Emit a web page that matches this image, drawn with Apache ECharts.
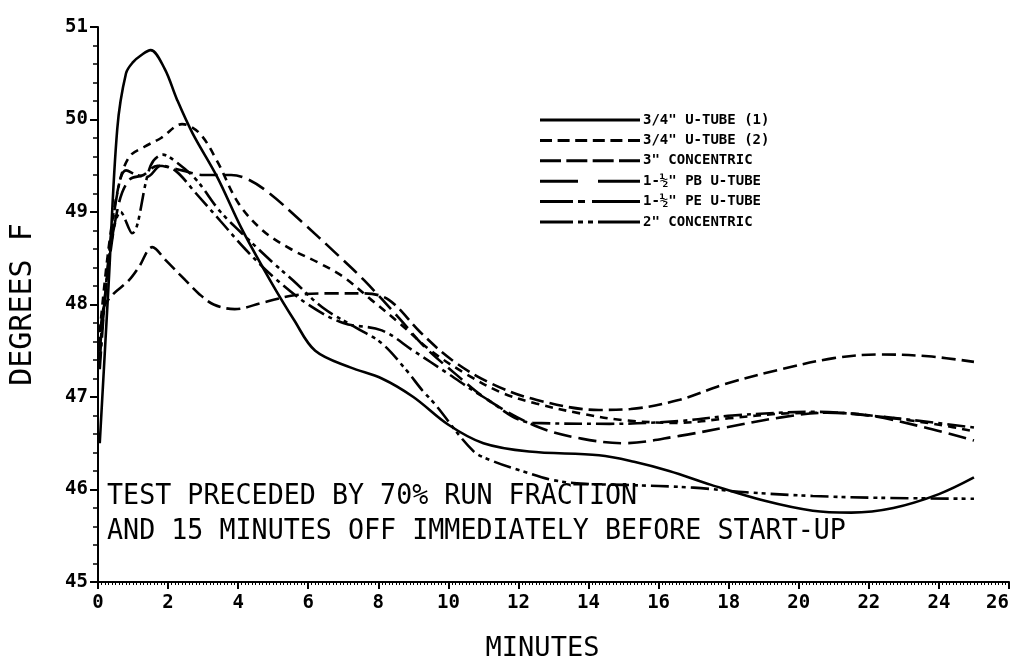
<!DOCTYPE html>
<html>
<head>
<meta charset="utf-8">
<script src="https://cdn.jsdelivr.net/npm/echarts@6/dist/echarts.min.js"></script>
<style>
  html, body { margin: 0; padding: 0; background: #fff; }
  #chart { width: 1016px; height: 668px; }
</style>
</head>
<body>
<div id="chart"></div>
<script>
// ---- Data (minutes, degrees F) ----
const seriesNames = ['3/4" U-TUBE (1)', '3/4" U-TUBE (2)', '3" CONCENTRIC', '1-½" PB U-TUBE', '1-½" PE U-TUBE', '2" CONCENTRIC'];

const uTube1 = [[0.05,46.5],[0.3,48.2],[0.55,49.9],[0.8,50.5],[1.0,50.62],[1.25,50.7],[1.5,50.75],[1.9,50.55],[2.25,50.22],[2.7,49.85],[3.4,49.38],[4.1,48.82],[4.9,48.27],[5.6,47.83],[6.2,47.5],[7.2,47.32],[8.1,47.2],[9.0,47.0],[10.0,46.7],[11.0,46.5],[12.3,46.41],[14.3,46.37],[15.3,46.3],[16.3,46.2],[17.5,46.05],[19.0,45.88],[20.4,45.77],[21.5,45.75],[22.7,45.8],[24.0,45.95],[25.0,46.13]];

const uTube2 = [[0.05,47.7],[0.3,48.6],[0.6,49.3],[0.9,49.6],[1.3,49.7],[1.8,49.8],[2.4,49.95],[2.9,49.85],[3.4,49.55],[4.0,49.1],[4.7,48.8],[5.5,48.6],[6.3,48.45],[7.0,48.3],[7.8,48.05],[8.6,47.8],[9.5,47.5],[10.5,47.25],[11.5,47.05],[12.5,46.93],[13.8,46.82],[15.0,46.75],[16.5,46.72],[18.0,46.77],[19.5,46.82],[21.0,46.83],[22.5,46.78],[24.0,46.7],[25.0,46.63]];

const concentric3 = [[0.05,47.5],[0.15,47.95],[0.4,48.1],[0.88,48.26],[1.16,48.4],[1.55,48.62],[1.93,48.48],[2.5,48.26],[2.87,48.12],[3.3,48.0],[3.9,47.95],[4.7,48.02],[5.6,48.1],[6.6,48.12],[7.6,48.12],[8.3,48.05],[9.2,47.7],[10.1,47.4],[11.2,47.15],[12.5,46.97],[14.3,46.86],[15.2,46.87],[16.6,46.97],[17.9,47.14],[19.5,47.3],[21.0,47.42],[22.3,47.46],[23.7,47.44],[25.0,47.38]];

const pbUTube = [[0.05,47.5],[0.3,48.4],[0.6,49.1],[0.9,49.35],[1.3,49.4],[1.7,49.5],[2.4,49.45],[3.0,49.4],[3.8,49.4],[4.3,49.35],[4.9,49.2],[5.8,48.9],[6.8,48.55],[7.6,48.26],[8.6,47.85],[9.3,47.55],[10.2,47.25],[11.2,46.95],[12.6,46.67],[13.8,46.55],[15.0,46.5],[16.6,46.58],[17.9,46.67],[19.5,46.78],[20.8,46.83],[22.0,46.8],[23.5,46.68],[25.0,46.53]];

const peUTube = [[0.05,47.3],[0.3,48.5],[0.6,49.3],[0.8,49.45],[1.1,49.4],[1.4,49.38],[1.8,49.5],[2.2,49.45],[2.8,49.2],[3.5,48.9],[4.2,48.6],[5.0,48.3],[6.0,48.0],[7.0,47.8],[8.1,47.72],[9.0,47.5],[10.0,47.25],[11.0,47.0],[12.4,46.72],[14.6,46.71],[16.6,46.74],[18.1,46.8],[20.5,46.84],[22.0,46.8],[23.5,46.74],[25.0,46.67]];

const concentric2 = [[0.05,47.4],[0.35,48.6],[0.65,49.0],[0.97,48.77],[1.5,49.5],[1.85,49.62],[2.2,49.55],[2.8,49.35],[3.5,49.0],[4.3,48.7],[5.0,48.45],[5.57,48.26],[6.4,47.97],[7.36,47.75],[8.1,47.58],[8.8,47.29],[9.26,47.07],[9.6,46.93],[10.7,46.42],[11.25,46.31],[12.1,46.2],[13.0,46.1],[14.0,46.06],[15.0,46.05],[17.0,46.02],[18.5,45.97],[20.4,45.93],[22.3,45.91],[25.0,45.9]];

const xTicks = { min: 0, max: 26, interval: 2 };
const yTicks = { min: 45, max: 51, interval: 1 };

// ---- Styles ----
const FONT = 'DejaVu Sans Mono';
const dashes = [null, [8, 6], [14, 6], [18, 7], [18, 5, 4, 5], [18, 5, 4, 4, 4, 5]];
const legendIcons = [
  'path://M0,0h100v3h-100z',
  'path://M0,0h12v3h-12zM17.6,0h12v3h-12zM35.2,0h12v3h-12zM52.8,0h12v3h-12zM70.4,0h12v3h-12zM88,0h12v3h-12z',
  'path://M0,0h21v3h-21zM26.33,0h21v3h-21zM52.67,0h21v3h-21zM79,0h21v3h-21z',
  'path://M0,0h38v3h-38zM58,0h42v3h-42z',
  'path://M0,0h33v3h-33zM38,0h7v3h-7zM52,0h48v3h-48z',
  'path://M0,0h33v3h-33zM38,0h5v3h-5zM48,0h5v3h-5zM58,0h42v3h-42z'
];
const allData = [uTube1, uTube2, concentric3, pbUTube, peUTube, concentric2];

const chart = echarts.init(document.getElementById('chart'));
chart.setOption({
  animation: false,
  backgroundColor: '#fff',
  grid: { left: 94, right: 7, top: 27, bottom: 86 },
  legend: {
    orient: 'vertical',
    left: 535,
    top: 107,
    itemWidth: 100,
    itemHeight: 3,
    itemGap: 4.4,
    selectedMode: false,
    itemStyle: { color: '#000', borderWidth: 0 },
    lineStyle: { width: 0 },
    textStyle: { fontFamily: FONT, fontSize: 14, fontWeight: 'bold', color: '#000', lineHeight: 16, padding: [0, 0, 0, -2] },
    data: seriesNames.map((n, i) => ({ name: n, icon: legendIcons[i] }))
  },
  xAxis: {
    type: 'value',
    min: xTicks.min, max: xTicks.max, interval: xTicks.interval,
    name: 'MINUTES',
    nameLocation: 'middle',
    nameGap: 53,
    nameTextStyle: { fontFamily: FONT, fontSize: 27, color: '#000', padding: [0, 22, 0, 0] },
    axisLine: { lineStyle: { color: '#000', width: 2 } },
    axisTick: { length: 7, lineStyle: { color: '#000', width: 2 } },
    minorTick: { show: true, splitNumber: 20, length: 3, lineStyle: { color: '#000', width: 1 } },
    splitLine: { show: false },
    axisLabel: { fontFamily: FONT, fontSize: 19, fontWeight: 'bold', color: '#000', margin: 12, alignMaxLabel: 'right' }
  },
  yAxis: {
    type: 'value',
    min: yTicks.min, max: yTicks.max, interval: yTicks.interval,
    name: 'DEGREES F',
    nameLocation: 'middle',
    nameGap: 60,
    nameTextStyle: { fontFamily: FONT, fontSize: 30, color: '#000' },
    axisLine: { show: true, lineStyle: { color: '#000', width: 2 } },
    axisTick: { show: true, length: 8, lineStyle: { color: '#000', width: 2 } },
    minorTick: { show: true, splitNumber: 5, length: 5, lineStyle: { color: '#000', width: 1.5 } },
    splitLine: { show: false },
    axisLabel: { fontFamily: FONT, fontSize: 19, fontWeight: 'bold', color: '#000', margin: 10 }
  },
  graphic: [
    { type: 'text', left: 107, top: 482, scaleX: 0.92, style: { text: 'TEST PRECEDED BY 70% RUN FRACTION', font: '29px "DejaVu Sans Mono"', fill: '#000' } },
    { type: 'text', left: 107, top: 517, scaleX: 0.92, style: { text: "AND 15 MINUTES OFF IMMEDIATELY BEFORE START-UP", font: '29px "DejaVu Sans Mono"', fill: '#000' } }
  ],
  series: allData.map((d, i) => ({
    name: seriesNames[i],
    type: 'line',
    data: d,
    smooth: 0.35,
    symbol: 'none',
    color: '#000',
    lineStyle: { color: '#000', width: 2.6, type: dashes[i] ? dashes[i] : 'solid' }
  }))
});
</script>
</body>
</html>
